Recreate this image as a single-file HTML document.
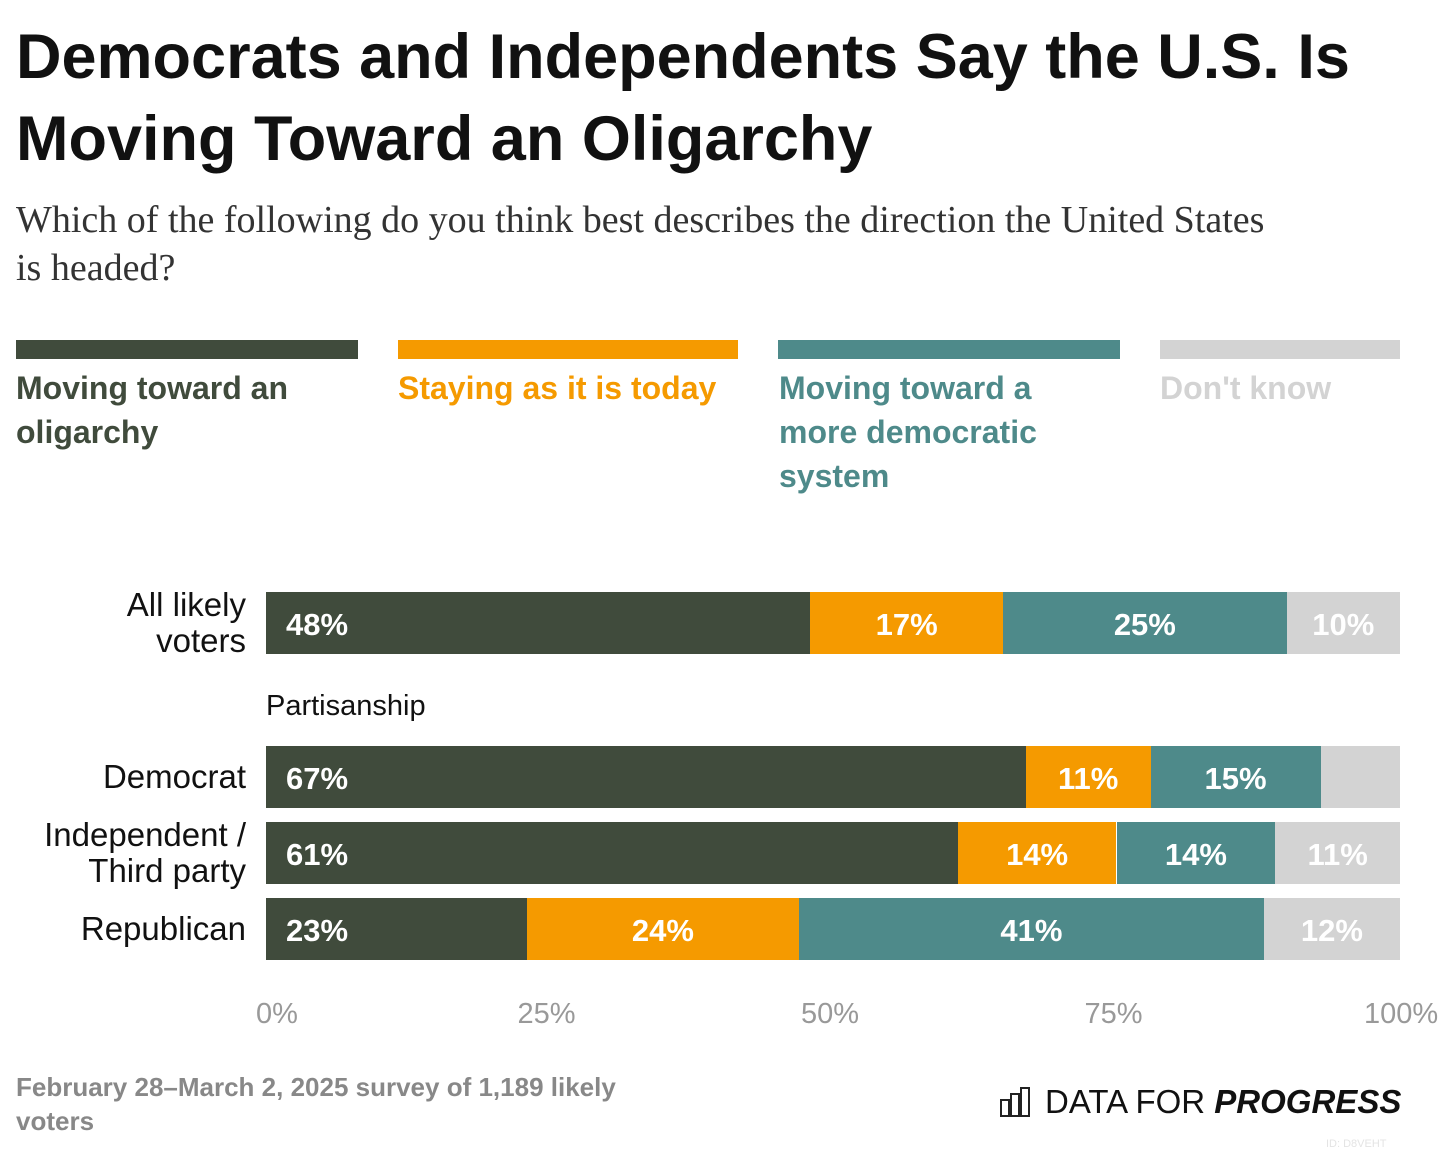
<!DOCTYPE html>
<html><head><meta charset="utf-8"><style>
body{margin:0;width:1440px;height:1154px;background:#fff;font-family:"Liberation Sans",sans-serif;position:relative;overflow:hidden}
.abs{position:absolute}
h1{position:absolute;left:16px;top:16px;margin:0;font-size:63px;line-height:82px;font-weight:bold;color:#111;width:1400px;letter-spacing:0px}
.sub{left:16px;top:196px;font-family:"Liberation Serif",serif;font-size:38px;line-height:48px;color:#333;width:1270px}
.sw{height:19px;top:340px}
.lt{top:366px;font-size:32px;line-height:44px;font-weight:bold}
.rl{font-size:33px;line-height:36px;text-align:right;color:#111;width:240px;left:6px}
.ax{top:998px;font-size:29px;color:#999}
</style></head><body>
<h1>Democrats and Independents Say the U.S. Is Moving Toward an Oligarchy</h1>
<div class="abs sub">Which of the following do you think best describes the direction the United States is headed?</div>
<div class="abs sw" style="left:16px;width:342px;background:#404b3c"></div>
<div class="abs sw" style="left:398px;width:340px;background:#f59a00"></div>
<div class="abs sw" style="left:778px;width:342px;background:#4e8a8a"></div>
<div class="abs sw" style="left:1160px;width:240px;background:#d3d3d3"></div>
<div class="abs lt" style="left:16px;width:330px;color:#404b3c">Moving toward an oligarchy</div>
<div class="abs lt" style="left:398px;width:340px;color:#f59a00">Staying as it is today</div>
<div class="abs lt" style="left:779px;width:300px;color:#4e8a8a">Moving toward a more democratic system</div>
<div class="abs lt" style="left:1160px;width:240px;color:#d3d3d3">Don't know</div>
<div class="abs" style="left:266px;top:690px;font-size:29px;color:#111">Partisanship</div>
<div id="chart"></div>
<div class="abs" style="left:16px;top:1070px;font-size:26px;line-height:34px;color:#888;font-weight:bold;width:640px">February 28–March 2, 2025 survey of 1,189 likely voters</div>
<div class="abs" style="left:1000px;top:1086px">
<svg width="32" height="32" viewBox="0 0 32 32"><g fill="none" stroke="#222" stroke-width="2"><rect x="1" y="14" width="8" height="16"/><rect x="11" y="8" width="8" height="22"/><rect x="21" y="2" width="8" height="28"/></g></svg>
</div>
<div class="abs" style="left:1045px;top:1083px;font-size:33px;color:#111;white-space:nowrap">DATA FOR <b><i>PROGRESS</i></b></div>
<div class="abs" style="left:1326px;top:1138px;font-size:11px;color:#e4e4e4">ID: D8VEHT</div>
<script>
const rows=["All likely voters","Democrat","Independent / Third party","Republican"];
const rowLabelsHtml=["All likely<br>voters","Democrat","Independent /<br>Third party","Republican"];
const oligarchy=[48,67,61,23];
const same=[17,11,14,24];
const democratic=[25,15,14,41];
const dontKnow=[10,7,11,12];
const showLabel=[[1,1,1,1],[1,1,1,0],[1,1,1,1],[1,1,1,1]];
const ticks=[0,25,50,75,100];
const colors=["#404b3c","#f59a00","#4e8a8a","#d3d3d3"];
const series=[oligarchy,same,democratic,dontKnow];
const X0=266,W=1134,rowTop=[592,746,822,898],H=62;
const x=v=>X0+v/100*W;
const c=document.getElementById('chart');
rows.forEach((r,i)=>{
 const l=document.createElement('div');l.className='abs rl';
 
 
 l.innerHTML=rowLabelsHtml[i];c.appendChild(l);
 const lines=rowLabelsHtml[i].includes('<br>')?2:1;
 l.style.top=(rowTop[i]+H/2-lines*18)+'px';
 let cum=0;
 series.forEach((s,k)=>{
  const v=s[i];const b=document.createElement('div');b.className='abs';
  
  
  const left=x(cum),right=x(cum+v);
  b.style.cssText=`left:${left}px;top:${rowTop[i]}px;width:${right-left}px;height:${H}px;background:${colors[k]};color:#fff;font-weight:bold;font-size:31px;line-height:${H+4}px;box-sizing:border-box;`+(k==0?'padding-left:20px;':'text-align:center;');
  if(showLabel[i][k])b.textContent=v+'%';
  c.appendChild(b);cum+=v;
 });
});
ticks.forEach(t=>{
 const d=document.createElement('div');d.className='abs ax';
 
 
 d.textContent=t+'%';d.style.left=(x(t)-(t==0?10:t==100?36:32))+'px';c.appendChild(d);
});
</script>
</body></html>
